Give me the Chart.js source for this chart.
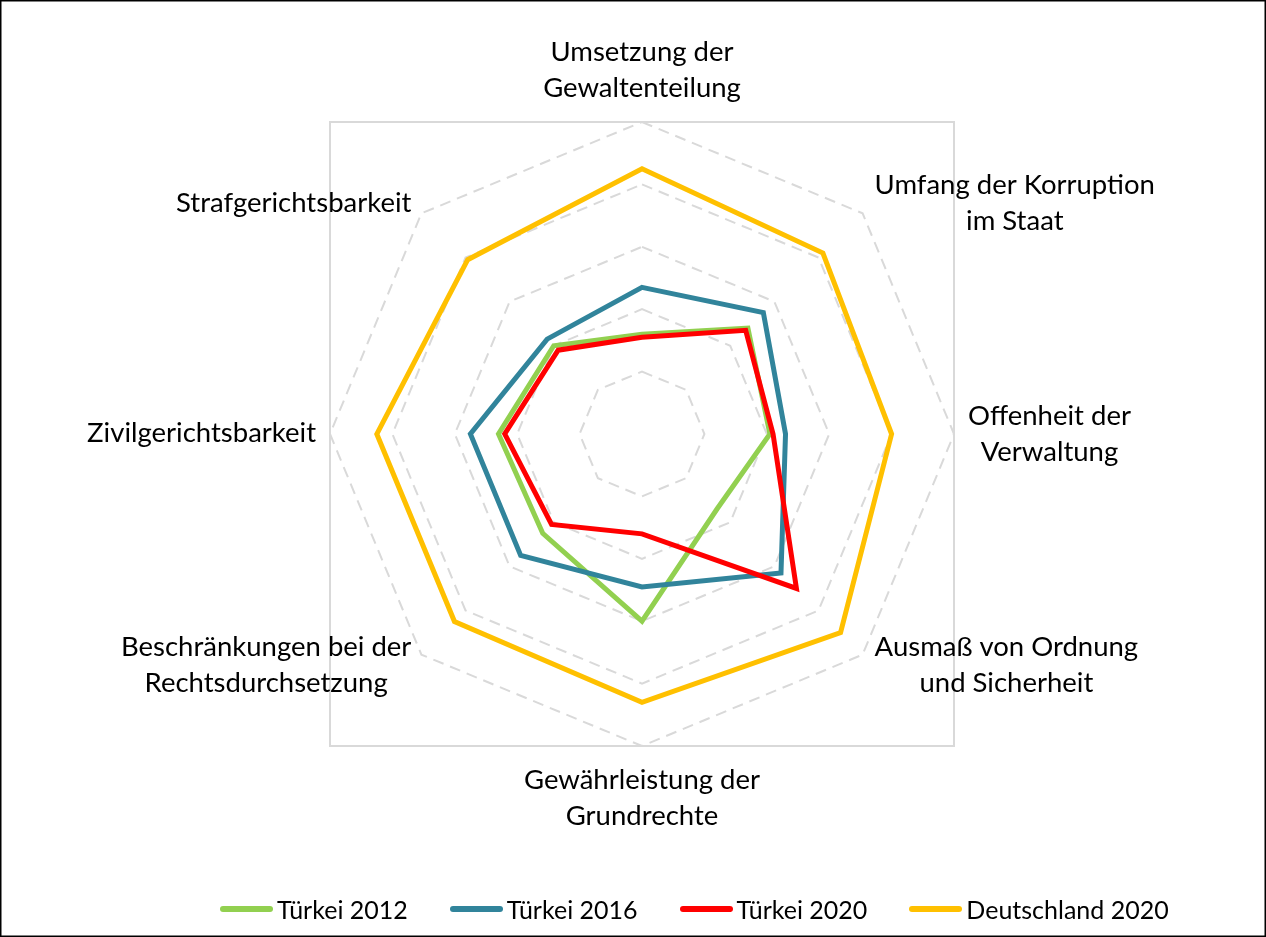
<!DOCTYPE html>
<html>
<head>
<meta charset="utf-8">
<script src="https://cdn.jsdelivr.net/npm/chart.js@4.4.1/dist/chart.umd.min.js"></script>
<style>
  html, body { margin: 0; padding: 0; background: #fff; }
  #wrap { position: relative; width: 1266px; height: 937px; }
  #legend {
    position: absolute; left: 220px; top: 893px; height: 32px;
    display: flex; align-items: center;
    font-family: Lato, sans-serif; font-size: 25px; color: #000;
  }
  .item { display: flex; align-items: center; margin-right: 42px; }
  .swatch { width: 53px; height: 6px; border-radius: 3px; margin-right: 4px; }
</style>
</head>
<body>
<div id="wrap">
  <canvas id="radar" width="1266" height="937"></canvas>
  <div id="legend"></div>
</div>
<script>
// axis labels, clockwise from the top
const categories = [
  ['Umsetzung der', 'Gewaltenteilung'],
  ['Umfang der Korruption', 'im Staat'],
  ['Offenheit der', 'Verwaltung'],
  ['Ausmaß von Ordnung', 'und Sicherheit'],
  ['Gewährleistung der', 'Grundrechte'],
  ['Beschränkungen bei der', 'Rechtsdurchsetzung'],
  ['Zivilgerichtsbarkeit'],
  ['Strafgerichtsbarkeit']
];
const seriesNames = ['Türkei 2012', 'Türkei 2016', 'Türkei 2020', 'Deutschland 2020'];
const tuerkei2012 = [0.32, 0.48, 0.41, 0.34, 0.60, 0.45, 0.46, 0.40];
const tuerkei2016 = [0.47, 0.55, 0.46, 0.63, 0.49, 0.55, 0.55, 0.43];
const tuerkei2020 = [0.31, 0.47, 0.42, 0.70, 0.32, 0.41, 0.44, 0.38];
const deutschland2020 = [0.85, 0.82, 0.80, 0.90, 0.86, 0.85, 0.85, 0.79];
const tickValues = [0, 0.2, 0.4, 0.6, 0.8, 1.0];

const colors = ['#92D050', '#31849B', '#FF0000', '#FFC000'];
const seriesValues = [tuerkei2012, tuerkei2016, tuerkei2020, deutschland2020];

// where each label sits relative to the outer grid corner
const labelPlacement = [
  { side: 'top', dy: -25 },
  { side: 'right', dx: 12, dy: -1 },
  { side: 'right', dx: 14, dy: 9 },
  { side: 'right', dx: 12, dy: 19 },
  { side: 'bottom', dy: 43 },
  { side: 'left', dx: -10, dy: 19 },
  { side: 'left', dx: -14, dy: 8 },
  { side: 'left', dx: -10, dy: -1 }
];
const lineStep = 36;

const framePlugin = {
  id: 'frame',
  beforeDatasetsDraw(chart) {
    const s = chart.scales.r;
    const ctx = chart.ctx;
    const R = s.getDistanceFromCenterForValue(tickValues[tickValues.length - 1]);
    ctx.save();
    ctx.strokeStyle = '#D9D9D9';
    ctx.lineWidth = 2;
    ctx.strokeRect(s.xCenter - R, s.yCenter - R, 2 * R, 2 * R);
    ctx.restore();
  },
  afterDraw(chart) {
    const s = chart.scales.r;
    const ctx = chart.ctx;
    const R = s.getDistanceFromCenterForValue(tickValues[tickValues.length - 1]);
    ctx.save();
    ctx.font = '27.5px Lato, sans-serif';
    ctx.fillStyle = '#000';
    ctx.textAlign = 'center';
    ctx.textBaseline = 'alphabetic';
    chart.data.labels.forEach((lines, i) => {
      const p = s.getPointPosition(i, R);
      const pl = labelPlacement[i];
      const w = Math.max(...lines.map(t => ctx.measureText(t).width));
      let cx = p.x, firstBase;
      if (pl.side === 'top') {
        firstBase = p.y + pl.dy - lineStep * (lines.length - 1);
      } else if (pl.side === 'bottom') {
        firstBase = p.y + pl.dy;
      } else {
        cx = pl.side === 'right' ? p.x + pl.dx + w / 2 : p.x + pl.dx - w / 2;
        firstBase = p.y + pl.dy - lineStep * (lines.length - 1) / 2;
      }
      lines.forEach((t, k) => ctx.fillText(t, cx, firstBase + k * lineStep));
    });
    // outer chart border
    ctx.strokeStyle = '#000';
    ctx.lineWidth = 1.5;
    ctx.strokeRect(0.75, 0.75, chart.width - 1.5, chart.height - 1.5);
    ctx.restore();
  }
};

const chart = new Chart(document.getElementById('radar'), {
  type: 'radar',
  data: {
    labels: categories,
    datasets: seriesNames.map((name, i) => ({
      label: name,
      data: seriesValues[i],
      borderColor: colors[i],
      backgroundColor: colors[i],
      borderWidth: 5,
      borderJoinStyle: 'miter',
      fill: false,
      pointRadius: 0,
      pointHoverRadius: 0,
      tension: 0,
      order: seriesNames.length - i
    }))
  },
  options: {
    responsive: false,
    animation: false,
    devicePixelRatio: 1,
    layout: { padding: { left: 330, right: 311, top: 121, bottom: 190 } },
    plugins: { legend: { display: false }, tooltip: { enabled: false } },
    scales: {
      r: {
        min: tickValues[0],
        max: tickValues[tickValues.length - 1],
        ticks: { stepSize: 0.2, display: false },
        angleLines: { display: false },
        pointLabels: { display: false },
        grid: { color: '#D9D9D9', lineWidth: 2 },
        border: { dash: [11, 7] }
      }
    }
  },
  plugins: [framePlugin]
});

// legend built from the chart's datasets
const legendEl = document.getElementById('legend');
chart.data.datasets.forEach(ds => {
  const item = document.createElement('div');
  item.className = 'item';
  const sw = document.createElement('span');
  sw.className = 'swatch';
  sw.style.background = ds.borderColor;
  const tx = document.createElement('span');
  tx.textContent = ds.label;
  item.appendChild(sw);
  item.appendChild(tx);
  legendEl.appendChild(item);
});
</script>
</body>
</html>
